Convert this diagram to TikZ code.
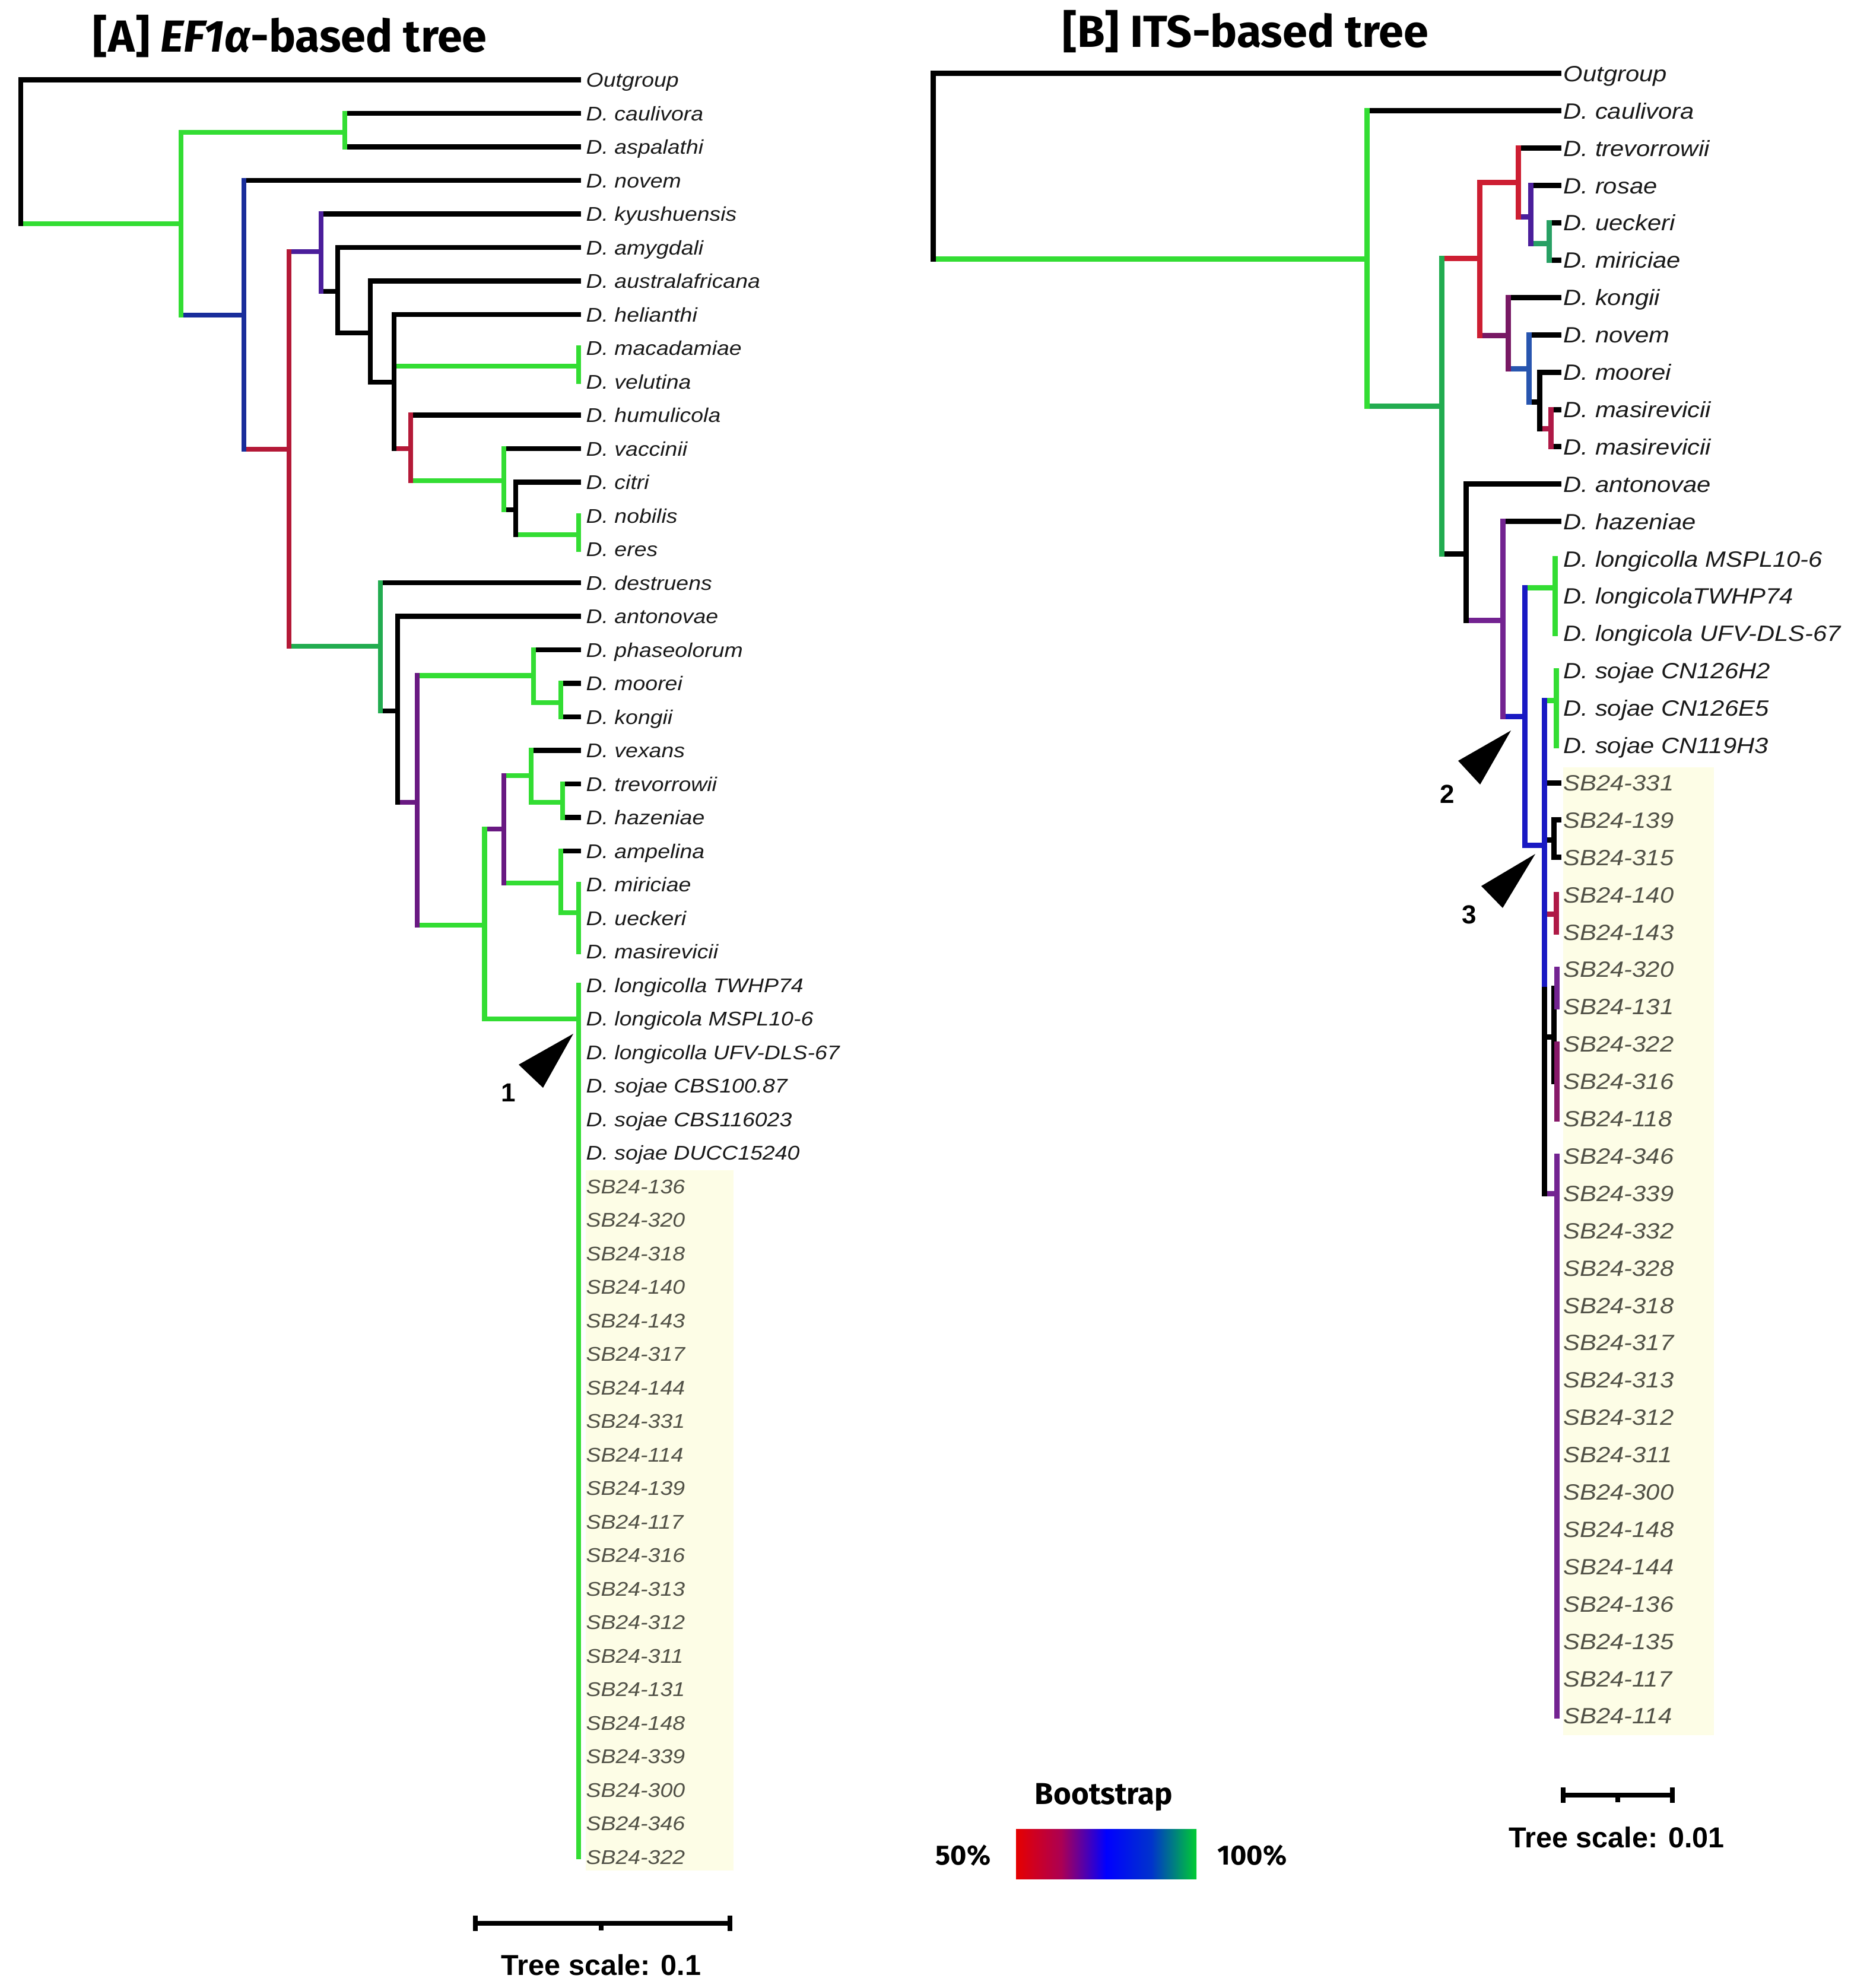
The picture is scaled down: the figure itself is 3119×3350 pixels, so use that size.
\documentclass[tikz,border=0pt]{standalone}
\usepackage{fontspec}
\setmainfont{Liberation Sans}
\newfontfamily\labfont[FakeStretch=1.12]{Liberation Sans}
\newfontfamily\headfont{Fira Sans}
\usetikzlibrary{positioning}

% bootstrap colours
\definecolor{brg}{RGB}{51,221,51}
\definecolor{mdg}{RGB}{34,172,80}
\definecolor{tealg}{RGB}{40,160,100}
\definecolor{redA}{RGB}{180,25,55}
\definecolor{redB}{RGB}{205,30,50}
\definecolor{blueA}{RGB}{25,45,155}
\definecolor{blueB}{RGB}{25,25,195}
\definecolor{steel}{RGB}{40,85,175}
\definecolor{indig}{RGB}{75,30,155}
\definecolor{purpA}{RGB}{105,25,130}
\definecolor{purpB}{RGB}{115,35,145}
\definecolor{magp}{RGB}{120,25,100}
\definecolor{crim}{RGB}{175,25,70}
\definecolor{magn}{RGB}{135,25,105}
\definecolor{hlyel}{RGB}{253,253,230}
\definecolor{sbgray}{RGB}{80,80,70}

\pgfdeclarehorizontalshading{boot}{100bp}{color(0bp)=(red!90!black); color(25bp)=(red!90!black);
  color(37.5bp)=(purple!90!blue); color(50bp)=(blue); color(62.5bp)=(blue!60!teal);
  color(75bp)=(green!60!teal); color(100bp)=(green!60!teal)}

% branch from parent to child, vertical line of a clade
\newcommand{\edge}[3]{\draw[color=#1] (#2 |- #3) -- (#3);}
\newcommand{\clade}[4]{\draw[color=#1] (#2 |- #3) -- (#2 |- #4);}

\tikzset{
  brA/.style={line width=0.085cm, line cap=rect},
  brB/.style={line width=0.09cm, line cap=rect},
  labA/.style={font={\labfont\itshape\fontsize{9.5}{11}\selectfont}, inner sep=0pt, text height=0.24cm, text depth=0cm, text=black!90},
  labB/.style={font={\labfont\itshape\fontsize{10.6}{12}\selectfont}, inner sep=0pt, text height=0.268cm, text depth=0cm, text=black!90},
  sbA/.style={labA, text=sbgray},
  sbB/.style={labB, text=sbgray},
  headline/.style={font={\headfont\bfseries\fontsize{21.5}{24}\selectfont}, inner sep=0pt, anchor=west},
  legtext/.style={font={\headfont\bfseries\fontsize{13.3}{15}\selectfont}, inner sep=0pt},
  scaletext/.style={font={\bfseries\fontsize{13.8}{16}\selectfont}, inner sep=0pt},
  numtext/.style={font={\bfseries\fontsize{12.5}{15}\selectfont}, inner sep=0pt},
  sbar/.style={line width=0.075cm},
}

\begin{document}
\begin{tikzpicture}[x=0.01cm, y=-0.01cm]
	\useasboundingbox (0,0) rectangle (3119,3350);
	% highlighted isolates
		\fill [hlyel] (987,1972) rectangle (1236,3152);
		\fill [hlyel] (2634,1293) rectangle (2888,2924);
	% titles
		\node [headline] (titA) at (156,61) {[A] \textit{EF1α}-based tree};
		\node [headline] (titB) at (1790,53) {[B] ITS-based tree};

	% ---------------- tree A ----------------
	\foreach \t [count=\i from 0] in {Outgroup, D. caulivora, D. aspalathi, D. novem, D. kyushuensis,
		D. amygdali, D. australafricana, D. helianthi, D. macadamiae, D. velutina, D. humulicola,
		D. vaccinii, D. citri, D. nobilis, D. eres, D. destruens, D. antonovae, D. phaseolorum,
		D. moorei, D. kongii, D. vexans, D. trevorrowii, D. hazeniae, D. ampelina, D. miriciae,
		D. ueckeri, D. masirevicii, D. longicolla TWHP74, D. longicola MSPL10-6,
		D. longicolla UFV-DLS-67, D. sojae CBS100.87, D. sojae CBS116023, D. sojae DUCC15240} {
		\coordinate (aL\i) at (975,{134.6+56.5*\i});
		\node [labA, right=0.12cm of aL\i] (aT\i) {\t};
	}
	\foreach \t [count=\i from 33] in {136,320,318,140,143,317,144,331,114,139,117,316,313,312,311,131,148,339,300,346,322} {
		\coordinate (aL\i) at (975,{134.6+56.5*\i});
		\node [sbA, right=0.12cm of aL\i] (aT\i) {SB24-\t};
	}
	\coordinate (aR) at (35,377);
	\coordinate (a1) at (305,377);
	\coordinate (a2) at (581,223);
	\coordinate (a3) at (411,531);
	\coordinate (a4) at (487,757);
	\coordinate (a5) at (541,424);
	\coordinate (a6) at (569,491);
	\coordinate (a7) at (624,561);
	\coordinate (a8) at (664,644);
	\coordinate (a9) at (975,617);
	\coordinate (a10) at (692,756);
	\coordinate (a11) at (849,810);
	\coordinate (a12) at (869,859);
	\coordinate (a13) at (975,901);
	\coordinate (a14) at (641,1089);
	\coordinate (a15) at (670,1198);
	\coordinate (a16) at (703,1352);
	\coordinate (a17) at (899,1138.5);
	\coordinate (a18) at (945,1184);
	\coordinate (a19) at (816.5,1559);
	\coordinate (a20) at (849,1397);
	\coordinate (a21) at (895,1307);
	\coordinate (a22) at (948,1352);
	\coordinate (a23) at (945,1488);
	\coordinate (a24) at (975,1538);
	\coordinate (a25) at (975,1717);
	\begin{scope}[brA]
		% branches
		\foreach \c/\p/\k in {black/aR/aL0, brg/aR/a1, brg/a1/a2, blueA/a1/a3, black/a2/aL1, black/a2/aL2,
			black/a3/aL3, redA/a3/a4, indig/a4/a5, mdg/a4/a14, black/a5/aL4, black/a5/a6,
			black/a6/aL5, black/a6/a7, black/a7/aL6, black/a7/a8, black/a8/aL7, brg/a8/a9, redA/a8/a10,
			black/a10/aL10, brg/a10/a11, black/a11/aL11, black/a11/a12, black/a12/aL12, brg/a12/a13,
			black/a14/aL15, black/a14/a15, black/a15/aL16, purpA/a15/a16, brg/a16/a17, brg/a16/a19,
			black/a17/aL17, brg/a17/a18, black/a18/aL18, black/a18/aL19, purpA/a19/a20, brg/a19/a25,
			brg/a20/a21, brg/a20/a23, black/a21/aL20, brg/a21/a22, black/a22/aL21, black/a22/aL22,
			black/a23/aL23, brg/a23/a24}
			{\edge{\c}{\p}{\k}}
		% clades
		\foreach \c/\p/\u/\v in {black/aR/aL0/a1, brg/a1/a2/a3, brg/a2/aL1/aL2, blueA/a3/aL3/a4,
			redA/a4/a5/a14, indig/a5/aL4/a6, black/a6/aL5/a7, black/a7/aL6/a8, black/a8/aL7/a10,
			brg/a9/aL8/aL9, redA/a10/aL10/a11, brg/a11/aL11/a12, black/a12/aL12/a13, brg/a13/aL13/aL14,
			mdg/a14/aL15/a15, black/a15/aL16/a16, purpA/a16/a17/a19, brg/a17/aL17/a18, brg/a18/aL18/aL19,
			brg/a19/a20/a25, purpA/a20/a21/a23, brg/a21/aL20/a22, brg/a22/aL21/aL22, brg/a23/aL23/a24,
			brg/a24/aL24/aL26, brg/a25/aL27/aL53}
			{\clade{\c}{\p}{\u}{\v}}
	\end{scope}
	% marker 1
		\fill (966,1742) -- (874,1794) -- (915,1833) -- cycle;
		\node [numtext] (k1) at (857,1841) {1};
	% scale A
		\coordinate (sa1) at (801,3241);
		\coordinate (sa2) at (1230,3241);
		\coordinate (sam) at (1013,3241);
		\draw [sbar] (sa1) -- (sa2);
		\draw [sbar] ([yshift=0.13cm]sa1) -- ([yshift=-0.13cm]sa1);
		\draw [sbar] ([yshift=0.13cm]sa2) -- ([yshift=-0.13cm]sa2);
		\draw [sbar] (sam) -- ([yshift=-0.12cm]sam);
		\node [scaletext] (tsA) at (1013,3311) {Tree scale: 0.1};

	% ---------------- tree B ----------------
	\foreach \t [count=\i from 0] in {Outgroup, D. caulivora, D. trevorrowii, D. rosae, D. ueckeri,
		D. miriciae, D. kongii, D. novem, D. moorei, D. masirevicii, D. masirevicii, D. antonovae,
		D. hazeniae, D. longicolla MSPL10-6, D. longicolaTWHP74, D. longicola UFV-DLS-67,
		D. sojae CN126H2, D. sojae CN126E5, D. sojae CN119H3} {
		\coordinate (bL\i) at (2626,{123.9+62.9*\i});
		\node [labB, right=0.08cm of bL\i] (bT\i) {\t};
	}
	\foreach \t [count=\i from 19] in {331,139,315,140,143,320,131,322,316,118,346,339,332,328,318,
		317,313,312,311,300,148,144,136,135,117,114} {
		\coordinate (bL\i) at (2626,{123.9+62.9*\i});
		\node [sbB, right=0.08cm of bL\i] (bT\i) {SB24-\t};
	}
	\coordinate (bR) at (1572,436);
	\coordinate (b1) at (2303,436);
	\coordinate (b2) at (2429,684);
	\coordinate (b3) at (2493,435);
	\coordinate (b4) at (2558,307);
	\coordinate (b5) at (2579,365);
	\coordinate (b6) at (2610,410);
	\coordinate (b7) at (2541,565);
	\coordinate (b8) at (2576,621);
	\coordinate (b9) at (2594,677);
	\coordinate (b10) at (2613,722);
	\coordinate (b11) at (2470,933);
	\coordinate (b12) at (2532,1045);
	\coordinate (b13) at (2569,1207);
	\coordinate (b14) at (2620,990);
	\coordinate (b15) at (2602,1424);
	\coordinate (b16) at (2622,1180);
	\coordinate (b17) at (2618,1415);
	\coordinate (b18) at (2622,1540);
	\coordinate (b19) at (2618,1747);
	\coordinate (b20) at (2623,1665);
	\coordinate (b21) at (2623,1822);
	\coordinate (b22) at (2623,2011);
	\coordinate (bSplit) at (2602,1667);
	\begin{scope}[brB]
		% branches
		\foreach \c/\p/\k in {black/bR/bL0, brg/bR/b1, black/b1/bL1, mdg/b1/b2, redB/b2/b3, black/b2/b11,
			redB/b3/b4, magp/b3/b7, black/b4/bL2, indig/b4/b5, black/b5/bL3, tealg/b5/b6,
			black/b6/bL4, black/b6/bL5, black/b7/bL6, steel/b7/b8, black/b8/bL7, black/b8/b9,
			black/b9/bL8, crim/b9/b10, black/b10/bL9, black/b10/bL10, black/b11/bL11, purpB/b11/b12,
			black/b12/bL12, blueB/b12/b13, brg/b13/b14, blueB/b13/b15, brg/b15/b16, black/b15/bL19,
			black/b15/b17, crim/b15/b18, black/b15/b19, purpB/b15/b22, black/b17/bL20, black/b17/bL21,
			purpB/b19/b20, magn/b19/b21}
			{\edge{\c}{\p}{\k}}
		% clades
		\foreach \c/\p/\u/\v in {black/bR/bL0/b1, brg/b1/bL1/b2, mdg/b2/b3/b11, redB/b3/b4/b7,
			redB/b4/bL2/b5, indig/b5/bL3/b6, tealg/b6/bL4/bL5, magp/b7/bL6/b8, steel/b8/bL7/b9,
			black/b9/bL8/b10, crim/b10/bL9/bL10, black/b11/bL11/b12, purpB/b12/bL12/b13,
			blueB/b13/b14/b15, brg/b14/bL13/bL15, brg/b16/bL16/bL18, black/b17/bL20/bL21,
			crim/b18/bL22/bL23, black/b19/b20/b21, purpB/b20/bL24/bL25, magn/b21/bL26/bL28,
			purpB/b22/bL29/bL44}
			{\clade{\c}{\p}{\u}{\v}}
		\draw [blueB] (b15 |- b16) -- (bSplit);
		\draw [black] (bSplit) -- (b15 |- b22);
	\end{scope}
	% markers 2 and 3
		\fill (2546,1231) -- (2457,1282) -- (2494,1322) -- cycle;
		\node [numtext] (k2) at (2439,1338) {2};
		\fill (2587,1439) -- (2496,1493) -- (2532,1530) -- cycle;
		\node [numtext] (k3) at (2476,1541) {3};
	% scale B
		\coordinate (sb1) at (2634,3025);
		\coordinate (sb2) at (2818,3025);
		\coordinate (sbm) at (2726,3025);
		\draw [sbar] (sb1) -- (sb2);
		\draw [sbar] ([yshift=0.13cm]sb1) -- ([yshift=-0.13cm]sb1);
		\draw [sbar] ([yshift=0.13cm]sb2) -- ([yshift=-0.13cm]sb2);
		\draw [sbar] (sbm) -- ([yshift=-0.12cm]sbm);
		\node [scaletext] (tsB) at (2724,3096) {Tree scale: 0.01};

	% bootstrap legend
		\node [legtext, font={\headfont\bfseries\fontsize{14.5}{16}\selectfont}] (bstitle) at (1860,3028) {Bootstrap};
		\shade [shading=boot] (1712,3082) rectangle (2016,3166);
		\node [legtext] (lo) at (1623,3127) {50\%};
		\node [legtext] (hi) at (2110,3127) {100\%};
\end{tikzpicture}
\end{document}
